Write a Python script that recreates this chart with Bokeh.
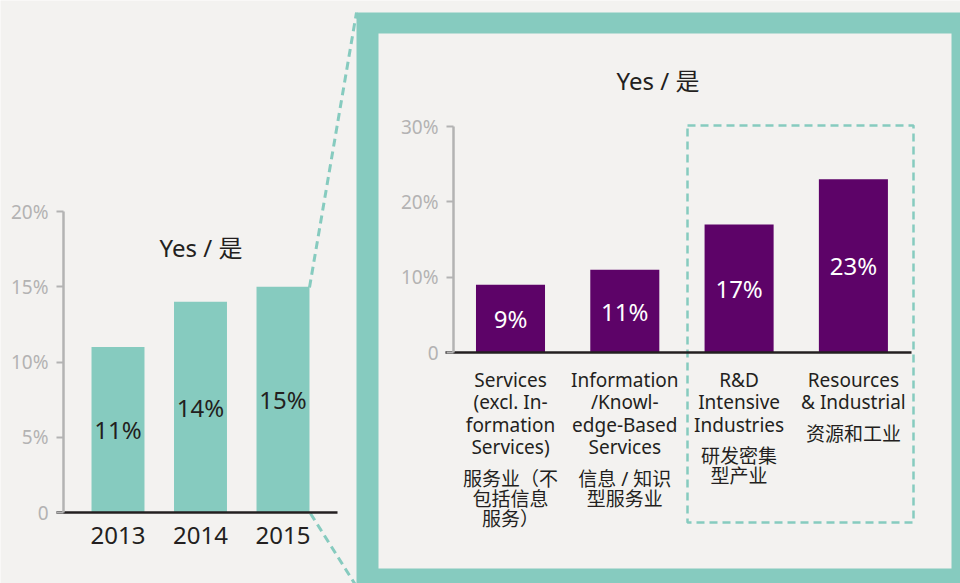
from bokeh.plotting import figure
from bokeh.models import Range1d, LinearAxis, FixedTicker, ColumnDataSource, Label
from bokeh.core.properties import value
from bokeh.embed import file_html
from bokeh.resources import INLINE

# ---------------- data ----------------
years = ["2013", "2014", "2015"]
yes_by_year = [11, 14, 15]
left_ticks = [0, 5, 10, 15, 20]
left_tick_labels = ["0", "5%", "10%", "15%", "20%"]

sectors_en = [
    "Services\n(excl. In-\nformation\nServices)",
    "Information\n/Knowl-\nedge-Based\nServices",
    "R&D\nIntensive\nIndustries",
    "Resources\n& Industrial",
]
sectors_zh = [
    "服务业（不\n包括信息\n服务）",
    "信息 / 知识\n型服务业",
    "研发密集\n型产业",
    "资源和工业",
]
yes_by_sector = [9, 11, 17, 23]
right_ticks = [0, 10, 20, 30]
right_tick_labels = ["0", "10%", "20%", "30%"]
title_left = "Yes / 是"
title_right = "Yes / 是"

# ---------------- style ----------------
BG = "#f3f2f0"
TEAL = "#86cbbf"
PURPLE = "#5d0368"
DARK = "#231f20"
GRAY_TXT = "#b3b3b3"
GRAY_AX = "#b3b3b3"
FONT = "Noto Sans, Noto Sans CJK SC"

W, H, OFF = 960, 583, 0
FX0, FX1 = OFF, OFF + W          # frame x extent (page px)
FYB, FYT = OFF + H, OFF          # frame bottom / top (page px)


def rng(v0, p0, v1, p1, pstart, pend):
    s = (p1 - p0) / (v1 - v0)
    return Range1d(start=v0 + (pstart - p0) / s, end=v0 + (pend - p0) / s)


p = figure(width=W, height=H, output_backend="svg", toolbar_location=None,
           x_axis_type=None, y_axis_type=None,
           x_range=Range1d(FX0, FX1), y_range=Range1d(FYB, FYT),
           min_border=0, min_border_left=0, min_border_right=0,
           min_border_top=0, min_border_bottom=0)
p.background_fill_color = BG
p.border_fill_color = BG
p.outline_line_color = None
p.grid.visible = False

# left chart scales (index -> px, percent -> px)
p.extra_x_ranges["lx"] = rng(0, 117.5, 1, 200.0, FX0, FX1)
p.extra_y_ranges["ly"] = rng(0, 512, 20, 211, FYB, FYT)
# right chart scales
p.extra_x_ranges["rx"] = rng(0, 510, 1, 624.3, FX0, FX1)
p.extra_y_ranges["ry"] = rng(0, 352, 30, 126, FYB, FYT)

# ---------------- decorations ----------------
p.quad(left=356, right=1000, top=12, bottom=600, fill_color=TEAL, line_color=None)
p.quad(left=378, right=951, top=33, bottom=568, fill_color=BG, line_color=None)
p.quad(left=687, right=913, top=125, bottom=522, fill_color=None,
       line_color=TEAL, line_width=2.5, line_dash="8 5")
p.segment(x0=[309, 310], y0=[287, 513], x1=[356, 356], y1=[12, 586],
          line_color=TEAL, line_width=3, line_dash="8 5")

# ---------------- left chart ----------------
lsrc = ColumnDataSource(dict(
    x=list(range(len(years))), top=yes_by_year,
    mid=[v / 2 for v in yes_by_year], lab=[f"{v}%" for v in yes_by_year]))
p.vbar(x="x", top="top", bottom=0, width=0.642, source=lsrc,
       x_range_name="lx", y_range_name="ly", fill_color=TEAL, line_color=None)
p.text(x="x", y="mid", text="lab", source=lsrc, x_range_name="lx", y_range_name="ly",
       text_align="center", text_baseline="middle", text_color=DARK,
       text_font=value(FONT), text_font_size="24px")

ly_axis = LinearAxis(y_range_name="ly", fixed_location=63, bounds=(0, 20),
                     ticker=FixedTicker(ticks=left_ticks),
                     major_label_overrides={t: s for t, s in zip(left_ticks, left_tick_labels)})
ly_axis.axis_line_color = GRAY_AX
ly_axis.axis_line_width = 2.5
ly_axis.major_tick_line_color = GRAY_AX
ly_axis.major_tick_line_width = 2
ly_axis.major_tick_in = 0
ly_axis.major_tick_out = 7
ly_axis.minor_tick_line_color = None
ly_axis.major_label_text_color = GRAY_TXT
ly_axis.major_label_text_font = FONT
ly_axis.major_label_text_font_size = "19px"
ly_axis.major_label_standoff = 8
p.add_layout(ly_axis, "left")

lx_axis = LinearAxis(x_range_name="lx", y_range_name="ly", fixed_location=0,
                     bounds=((56 - 117.5) / 82.5, (337 - 117.5) / 82.5),
                     ticker=FixedTicker(ticks=list(range(len(years)))),
                     major_label_overrides={i: y for i, y in enumerate(years)})
lx_axis.axis_line_color = DARK
lx_axis.axis_line_width = 2.5
lx_axis.major_tick_line_color = None
lx_axis.minor_tick_line_color = None
lx_axis.major_label_text_color = DARK
lx_axis.major_label_text_font = FONT
lx_axis.major_label_text_font_size = "24px"
lx_axis.major_label_standoff = 8
p.add_layout(lx_axis, "below")

p.add_layout(Label(x=200.5, y=247, text=title_left, text_align="center",
                   text_baseline="middle", text_color=DARK, text_font=FONT,
                   text_font_size="24px"))

# ---------------- right chart ----------------
rsrc = ColumnDataSource(dict(
    x=list(range(len(sectors_en))), top=yes_by_sector,
    mid=[v / 2 for v in yes_by_sector], lab=[f"{v}%" for v in yes_by_sector]))
p.vbar(x="x", top="top", bottom=0, width=0.604, source=rsrc,
       x_range_name="rx", y_range_name="ry", fill_color=PURPLE, line_color=None)
p.text(x="x", y="mid", text="lab", source=rsrc, x_range_name="rx", y_range_name="ry",
       text_align="center", text_baseline="middle", text_color="white",
       text_font=value(FONT), text_font_size="24px")

# Chinese sub-labels, one glyph per line, placed under the English label
zx, ztxt, zoff = [], [], []
for i, (en, zh) in enumerate(zip(sectors_en, sectors_zh)):
    n_en = en.count("\n") + 1
    for j, line in enumerate(zh.split("\n")):
        zx.append(i)
        ztxt.append(line)
        zoff.append(36 + 22.5 * n_en + 20 * j)
zsrc = ColumnDataSource(dict(x=zx, y=[0] * len(zx), t=ztxt, off=zoff))
p.text(x="x", y="y", text="t", y_offset="off", source=zsrc,
       x_range_name="rx", y_range_name="ry",
       text_align="center", text_baseline="middle", text_color=DARK,
       text_font=value(FONT), text_font_size="19px")

ry_axis = LinearAxis(y_range_name="ry", fixed_location=453, bounds=(0, 30),
                     ticker=FixedTicker(ticks=right_ticks),
                     major_label_overrides={t: s for t, s in zip(right_ticks, right_tick_labels)})
ry_axis.axis_line_color = GRAY_AX
ry_axis.axis_line_width = 2.5
ry_axis.major_tick_line_color = GRAY_AX
ry_axis.major_tick_line_width = 2
ry_axis.major_tick_in = 0
ry_axis.major_tick_out = 7
ry_axis.minor_tick_line_color = None
ry_axis.major_label_text_color = GRAY_TXT
ry_axis.major_label_text_font = FONT
ry_axis.major_label_text_font_size = "19px"
ry_axis.major_label_standoff = 8
p.add_layout(ry_axis, "left")

rx_axis = LinearAxis(x_range_name="rx", y_range_name="ry", fixed_location=0,
                     bounds=((445 - 510) / 114.3, (911 - 510) / 114.3),
                     ticker=FixedTicker(ticks=list(range(len(sectors_en)))),
                     major_label_overrides={i: s for i, s in enumerate(sectors_en)})
rx_axis.axis_line_color = DARK
rx_axis.axis_line_width = 2.5
rx_axis.major_tick_line_color = None
rx_axis.minor_tick_line_color = None
rx_axis.major_label_text_color = DARK
rx_axis.major_label_text_font = FONT
rx_axis.major_label_text_font_size = "19px"
rx_axis.major_label_text_line_height = 0.87
rx_axis.major_label_standoff = 8
p.add_layout(rx_axis, "below")

p.add_layout(Label(x=657.5, y=80, text=title_right, text_align="center",
                   text_baseline="middle", text_color=DARK, text_font=FONT,
                   text_font_size="24px"))

open("out.html", "w").write(file_html(p, INLINE))
